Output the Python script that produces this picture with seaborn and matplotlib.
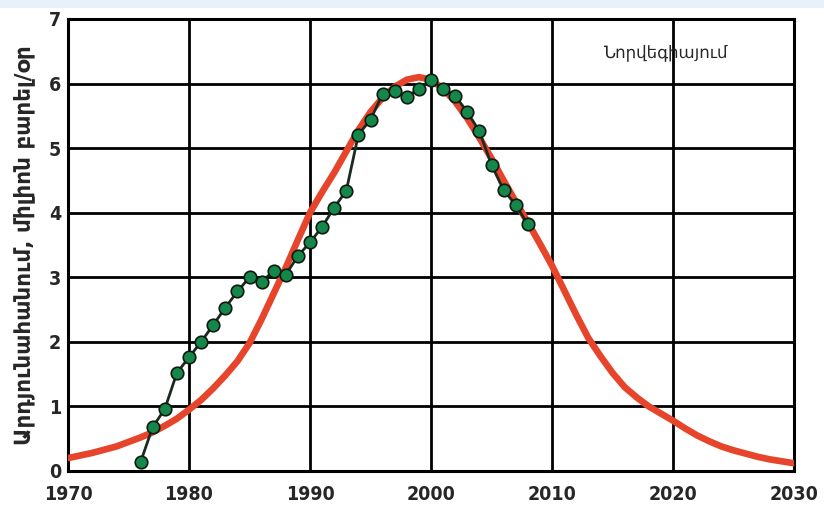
import matplotlib
matplotlib.use("Agg")
import matplotlib.pyplot as plt
import seaborn as sns
import pandas as pd
from matplotlib.patches import Rectangle

# ---- data ----
fit_years = list(range(1970, 2031))
fit_values = [0.20, 0.24, 0.28, 0.33, 0.38, 0.45, 0.52, 0.60, 0.70, 0.81,
              0.95, 1.10, 1.28, 1.48, 1.70, 1.98, 2.35, 2.75, 3.15, 3.58,
              4.00, 4.32, 4.62, 4.95, 5.28, 5.56, 5.78, 5.95, 6.06, 6.10,
              6.06, 5.92, 5.72, 5.46, 5.16, 4.84, 4.50, 4.17, 3.85, 3.52,
              3.18, 2.80, 2.42, 2.06, 1.78, 1.52, 1.30, 1.14, 1.00, 0.89,
              0.78, 0.66, 0.55, 0.46, 0.38, 0.32, 0.27, 0.22, 0.18, 0.15,
              0.12]

obs_years = list(range(1976, 2009))
obs_values = [0.14, 0.68, 0.96, 1.52, 1.76, 2.00, 2.26, 2.53, 2.78, 3.00,
              2.93, 3.10, 3.04, 3.33, 3.54, 3.78, 4.08, 4.34, 5.21, 5.44,
              5.84, 5.89, 5.79, 5.92, 6.06, 5.92, 5.81, 5.56, 5.26, 4.74,
              4.35, 4.12, 3.82]

x_ticks = [1970, 1980, 1990, 2000, 2010, 2020, 2030]
y_ticks = [0, 1, 2, 3, 4, 5, 6, 7]
y_label = "Արդյունահանում, միլիոն բարել/օր"
note = "Նորվեգիայում"

fit_df = pd.DataFrame({"year": fit_years, "value": fit_values})
obs_df = pd.DataFrame({"year": obs_years, "value": obs_values})

# ---- plot ----
sns.set_style("white")
plt.rcParams["font.family"] = ["DejaVu Sans"]

fig = plt.figure(figsize=(8.24, 5.13), dpi=100)
ax = fig.add_axes([68 / 824, 1 - 471 / 513, (794 - 68) / 824, (471 - 19) / 513])

# faint blue band at top of the page
fig.patches.append(Rectangle((0, 1 - 8 / 513), 1, 8 / 513, transform=fig.transFigure,
                             facecolor="#e8f1fa", edgecolor="none", zorder=0))

sns.lineplot(data=fit_df, x="year", y="value", ax=ax, color="#e6442b",
             linewidth=4.8, solid_capstyle="round", solid_joinstyle="round",
             zorder=3)
sns.lineplot(data=obs_df, x="year", y="value", ax=ax, color="#1b2a1e",
             linewidth=2.0, marker="o", markersize=9,
             markerfacecolor="#16874a", markeredgecolor="#0d1a10",
             markeredgewidth=1.2, zorder=4)

ax.set_xlim(1970, 2030)
ax.set_ylim(0, 7)
ax.set_xticks(x_ticks)
ax.set_yticks(y_ticks)
ax.grid(True, color="black", linewidth=2.0)
ax.set_axisbelow(True)
for s in ax.spines.values():
    s.set_color("black")
    s.set_linewidth(2.2)

ax.tick_params(axis="both", length=0, labelsize=14)
ax.tick_params(axis="y", pad=5)
ax.tick_params(axis="x", pad=10)
for lab in ax.get_xticklabels() + ax.get_yticklabels():
    lab.set_fontweight("bold")
    lab.set_fontstretch("condensed")

ax.set_xlabel("")
ax.set_ylabel(y_label, fontsize=15.5, fontweight="bold", labelpad=10)

fig.text(665 / 824, 1 - 52 / 513, note, fontsize=12, ha="center", va="center")

fig.savefig("out.png", dpi=100)
